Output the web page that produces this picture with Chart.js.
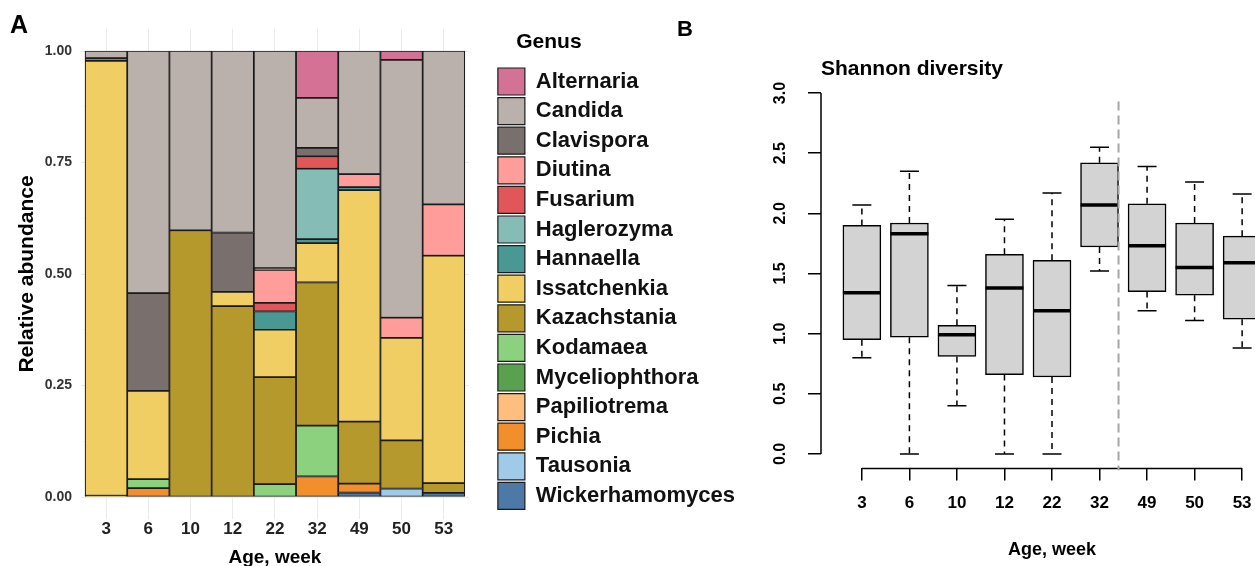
<!DOCTYPE html>
<html>
<head>
<meta charset="utf-8">
<title>Fungal genera and Shannon diversity by age</title>
<script src="https://cdn.jsdelivr.net/npm/chart.js@4.4.1/dist/chart.umd.min.js"></script>
<style>
  html, body { margin: 0; padding: 0; background: #fff; overflow: hidden; }
  #wrap { position: relative; width: 1255px; height: 566px; overflow: hidden; }
  #bars { position: absolute; left: 0; top: 0; }
  #shannon { position: absolute; left: 670px; top: 0; }
</style>
</head>
<body>
<div id="wrap">
  <canvas id="bars" width="745" height="566"></canvas>
  <canvas id="shannon" width="613" height="566"></canvas>
</div>
<script>
Chart.defaults.font.family = '"Liberation Sans", Arial, sans-serif';
Chart.defaults.color = '#000';

const weeks = ['3', '6', '10', '12', '22', '32', '49', '50', '53'];

// relative abundance of each genus, one value per week
const alternaria      = [0, 0, 0, 0, 0, 0.105, 0, 0.020, 0];
const candida         = [0.016, 0.543, 0.402, 0.407, 0.487, 0.112, 0.276, 0.578, 0.344];
const clavispora      = [0, 0.219, 0, 0.133, 0.004, 0.019, 0, 0, 0];
const diutina         = [0, 0, 0, 0, 0.074, 0, 0.029, 0.045, 0.115];
const fusarium        = [0.006, 0, 0, 0, 0.019, 0.028, 0, 0, 0];
const haglerozyma     = [0, 0, 0, 0, 0, 0.158, 0, 0, 0];
const hannaella       = [0, 0, 0, 0, 0.041, 0.009, 0.007, 0, 0];
const issatchenkia    = [0.975, 0.198, 0, 0.032, 0.106, 0.088, 0.519, 0.230, 0.510];
const kazachstania    = [0.003, 0, 0.598, 0.428, 0.240, 0.321, 0.139, 0.108, 0.022];
const kodamaea        = [0, 0.020, 0, 0, 0.029, 0.114, 0, 0, 0];
const myceliophthora  = [0, 0, 0, 0, 0, 0, 0, 0, 0];
const papiliotrema    = [0, 0, 0, 0, 0, 0, 0, 0, 0];
const pichia          = [0, 0.020, 0, 0, 0, 0.046, 0.020, 0, 0];
const tausonia        = [0, 0, 0, 0, 0, 0, 0, 0.019, 0];
const wickerhamomyces = [0, 0, 0, 0, 0, 0, 0.010, 0, 0.009];

const genusNames = ['Alternaria', 'Candida', 'Clavispora', 'Diutina', 'Fusarium', 'Haglerozyma',
  'Hannaella', 'Issatchenkia', 'Kazachstania', 'Kodamaea', 'Myceliophthora', 'Papiliotrema',
  'Pichia', 'Tausonia', 'Wickerhamomyces'];
const genusValues = [alternaria, candida, clavispora, diutina, fusarium, haglerozyma,
  hannaella, issatchenkia, kazachstania, kodamaea, myceliophthora, papiliotrema,
  pichia, tausonia, wickerhamomyces];
const genusColors = ['#D37295', '#BAB0AC', '#79706E', '#FF9D9A', '#E15759', '#86BCB6',
  '#499894', '#F1CE63', '#B6992D', '#8CD17D', '#59A14F', '#FFBE7D',
  '#F28E2B', '#A0CBE8', '#4E79A7'];

// Shannon diversity box summaries, one value per week
const whiskerLow  = [0.80, 0.00, 0.40, 0.00, 0.00, 1.52, 1.19, 1.11, 0.88];
const q1          = [0.95, 0.97, 0.81, 0.66, 0.64, 1.72, 1.35, 1.32, 1.12];
const median      = [1.34, 1.83, 0.99, 1.38, 1.19, 2.07, 1.73, 1.55, 1.59];
const q3          = [1.90, 1.92, 1.07, 1.66, 1.61, 2.42, 2.08, 1.92, 1.81];
const whiskerHigh = [2.07, 2.35, 1.40, 1.95, 2.17, 2.55, 2.39, 2.26, 2.16];

// dashed separator between week 32 and week 49
const dividerAt = 6.4;
const dividerSpan = [-0.135, 2.93];

const boldFont = (size, lineHeight) => ({ size: size, weight: 'bold', lineHeight: lineHeight || 1.2 });

// ---------- A: stacked relative abundance ----------
const barSets = genusNames.map((name, g) => ({
  label: name,
  data: genusValues[g].map((v, i) => ({ x: i + 1, y: v || null })),
  backgroundColor: genusColors[g],
  borderColor: '#1b1b1b',
  borderWidth: 1.2,
  borderSkipped: false,
  categoryPercentage: 1,
  barPercentage: 1
})).reverse(); // first dataset sits at the bottom of the stack

new Chart(document.getElementById('bars'), {
  type: 'bar',
  data: { datasets: barSets },
  options: {
    responsive: false,
    animation: false,
    layout: { padding: { left: 10, top: 0, right: 0, bottom: 0 } },
    scales: {
      x: {
        type: 'linear',
        stacked: true,
        offset: false,
        min: 0.4,
        max: 9.6,
        grid: { offset: false, color: '#ebebeb', drawTicks: false },
        border: { display: false },
        ticks: {
          stepSize: 1, includeBounds: false, autoSkip: false, maxRotation: 0, padding: 0,
          color: '#222', font: boldFont(17),
          callback: v => weeks[v - 1]
        },
        title: { display: true, text: 'Age, week', color: '#000', font: boldFont(19), padding: { top: 0, bottom: -3 } },
        afterFit: s => { s.height = 46.7; }
      },
      y: {
        stacked: true,
        min: -0.05,
        max: 1.05,
        grid: {
          drawTicks: false,
          color: c => (c.tick && c.tick.value % 0.25 === 0 ? '#ebebeb' : '#f4f4f4'),
          lineWidth: c => (c.tick && c.tick.value % 0.25 === 0 ? 1 : 0.6)
        },
        border: { display: false },
        ticks: {
          stepSize: 0.125, includeBounds: false, padding: 8.8,
          color: '#333', font: boldFont(14),
          callback: v => (v % 0.25 === 0 ? v.toFixed(2) : '')
        },
        title: { display: true, text: 'Relative abundance', color: '#000', font: boldFont(21), padding: { top: 4.4, bottom: 0 } },
        afterFit: s => { s.width = 70.8; }
      },
      // empty axis only used to leave room between the bars and the legend
      gap: {
        type: 'linear',
        position: 'right',
        display: true,
        grid: { display: false },
        ticks: { display: false },
        border: { display: false },
        afterFit: s => { s.width = 26.2; }
      }
    },
    plugins: {
      title: {
        display: true, text: 'A', align: 'start', fullSize: true, color: '#000',
        font: boldFont(25, 1), padding: { top: 13.5, bottom: -9.8 }
      },
      legend: {
        display: true,
        position: 'right',
        align: 'start',
        reverse: true,
        fullSize: true,
        maxWidth: 400,
        labels: { boxWidth: 27, boxHeight: 27, padding: 2.6, color: '#111', font: boldFont(22) },
        title: {
          display: true, text: '\u2003Genus', position: 'start', color: '#000',
          font: boldFont(21), padding: { top: 32, bottom: 8.2 }
        }
      },
      tooltip: { enabled: false }
    }
  }
});

// ---------- B: Shannon diversity box plot ----------
const boxPlotParts = {
  id: 'boxPlotParts',
  beforeDatasetsDraw(chart) {
    const { ctx } = chart;
    const y = chart.scales.y;
    const boxes = chart.getDatasetMeta(0).data;
    ctx.save();
    ctx.strokeStyle = '#000';
    ctx.lineWidth = 1.5;
    boxes.forEach((box, i) => {
      const cap = box.width / 4;
      const yHi = y.getPixelForValue(whiskerHigh[i]);
      const yLo = y.getPixelForValue(whiskerLow[i]);
      ctx.setLineDash([6, 5]);
      ctx.beginPath();
      ctx.moveTo(box.x, y.getPixelForValue(q3[i]));
      ctx.lineTo(box.x, yHi);
      ctx.moveTo(box.x, y.getPixelForValue(q1[i]));
      ctx.lineTo(box.x, yLo);
      ctx.stroke();
      ctx.setLineDash([]);
      ctx.beginPath();
      ctx.moveTo(box.x - cap, yHi);
      ctx.lineTo(box.x + cap, yHi);
      ctx.moveTo(box.x - cap, yLo);
      ctx.lineTo(box.x + cap, yLo);
      ctx.stroke();
    });
    ctx.restore();
  },
  afterDatasetsDraw(chart) {
    const { ctx, chartArea } = chart;
    const x = chart.scales.x;
    const y = chart.scales.y;
    const boxes = chart.getDatasetMeta(0).data;
    ctx.save();
    // medians
    ctx.strokeStyle = '#000';
    ctx.lineWidth = 3.5;
    boxes.forEach((box, i) => {
      const ym = y.getPixelForValue(median[i]);
      ctx.beginPath();
      ctx.moveTo(box.x - box.width / 2, ym);
      ctx.lineTo(box.x + box.width / 2, ym);
      ctx.stroke();
    });
    // axis lines only between first and last tick, as in base R
    ctx.lineWidth = 1.5;
    ctx.beginPath();
    ctx.moveTo(chartArea.left, y.getPixelForValue(y.ticks[0].value));
    ctx.lineTo(chartArea.left, y.getPixelForValue(y.ticks[y.ticks.length - 1].value));
    ctx.moveTo(x.getPixelForValue(x.ticks[0].value), chartArea.bottom);
    ctx.lineTo(x.getPixelForValue(x.ticks[x.ticks.length - 1].value), chartArea.bottom);
    ctx.stroke();
    // separator
    const xd = x.getPixelForValue(dividerAt);
    ctx.strokeStyle = '#a6a6a6';
    ctx.lineWidth = 2;
    ctx.setLineDash([9, 5]);
    ctx.beginPath();
    ctx.moveTo(xd, y.getPixelForValue(dividerSpan[1]));
    ctx.lineTo(xd, y.getPixelForValue(dividerSpan[0]));
    ctx.stroke();
    ctx.restore();
  }
};

new Chart(document.getElementById('shannon'), {
  type: 'bar',
  data: {
    datasets: [{
      label: 'Shannon diversity',
      data: q1.map((v, i) => ({ x: i + 1, y: [v, q3[i]] })),
      backgroundColor: '#d3d3d3',
      borderColor: '#000',
      borderWidth: 1.5,
      borderSkipped: false,
      barThickness: 38
    }]
  },
  plugins: [boxPlotParts],
  options: {
    responsive: false,
    animation: false,
    layout: { padding: { left: 7, top: 0, right: 0, bottom: 0 } },
    scales: {
      x: {
        type: 'linear',
        offset: false,
        min: 0.14,
        max: 9.86,
        grid: { offset: false, drawOnChartArea: false, drawTicks: true, tickLength: 12, color: '#000', lineWidth: 1.5 },
        border: { display: false },
        ticks: {
          stepSize: 1, includeBounds: false, autoSkip: false, maxRotation: 0, padding: 12.9,
          color: '#000', font: boldFont(17),
          callback: v => weeks[v - 1]
        },
        title: { display: true, text: 'Age, week', color: '#000', font: boldFont(18), padding: { top: 0, bottom: 5.2 } },
        afterFit: s => { s.height = 97.6; }
      },
      y: {
        min: -0.12,
        max: 3.12,
        grid: { drawOnChartArea: false, drawTicks: true, tickLength: 13, color: '#000', lineWidth: 1.5 },
        border: { display: false },
        ticks: {
          stepSize: 0.5, includeBounds: false, minRotation: 90, maxRotation: 90,
          crossAlign: 'center', padding: 16,
          color: '#000', font: boldFont(16),
          callback: v => v.toFixed(1)
        },
        afterFit: s => { s.width = 144; }
      }
    },
    plugins: {
      legend: { display: false },
      tooltip: { enabled: false },
      title: {
        display: true, text: 'B', align: 'start', fullSize: true, color: '#000',
        font: boldFont(22, 1), padding: { top: 18.5, bottom: 0 }
      },
      subtitle: {
        display: true, text: 'Shannon diversity', align: 'start', fullSize: false, color: '#000',
        font: boldFont(21, 1), padding: { top: 18.5, bottom: -1.4 }
      }
    }
  }
});
</script>
</body>
</html>
